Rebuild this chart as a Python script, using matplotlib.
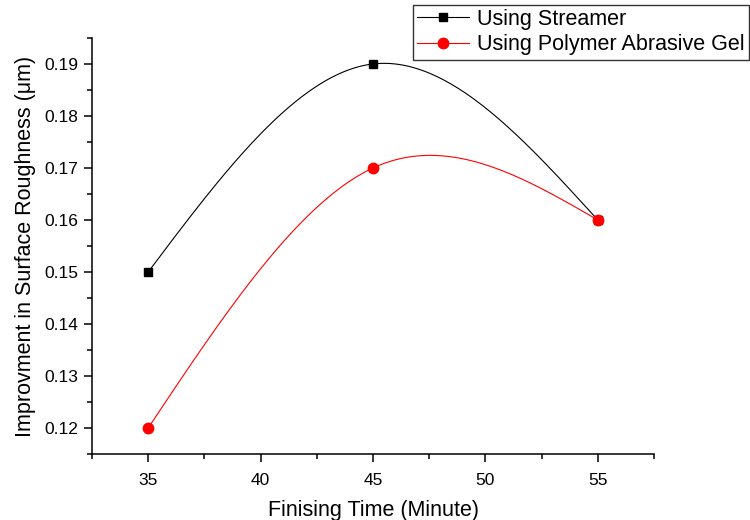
import numpy as np
import matplotlib.pyplot as plt
from matplotlib.ticker import MultipleLocator

plt.rcParams['font.family'] = ['Liberation Sans', 'DejaVu Sans']

# data
time_min = [35, 45, 55]
streamer = [0.15, 0.19, 0.16]
abrasive_gel = [0.12, 0.17, 0.16]


def natural_spline(x, y, n=200):
    # natural cubic spline through the points (like Origin's spline connector)
    x = np.asarray(x, float)
    y = np.asarray(y, float)
    k = len(x)
    h = np.diff(x)
    A = np.zeros((k, k))
    r = np.zeros(k)
    A[0, 0] = A[-1, -1] = 1
    for i in range(1, k - 1):
        A[i, i - 1] = h[i - 1]
        A[i, i] = 2 * (h[i - 1] + h[i])
        A[i, i + 1] = h[i]
        r[i] = 6 * ((y[i + 1] - y[i]) / h[i] - (y[i] - y[i - 1]) / h[i - 1])
    M = np.linalg.solve(A, r)
    xs = np.linspace(x[0], x[-1], n)
    ys = np.empty_like(xs)
    for j, xv in enumerate(xs):
        i = min(np.searchsorted(x, xv, side='right') - 1, k - 2)
        a = x[i + 1] - xv
        b = xv - x[i]
        ys[j] = (M[i] * a ** 3 + M[i + 1] * b ** 3) / (6 * h[i]) \
            + (y[i] / h[i] - M[i] * h[i] / 6) * a \
            + (y[i + 1] / h[i] - M[i + 1] * h[i] / 6) * b
    return xs, ys


fig = plt.figure(figsize=(7.5, 5.2), dpi=100)
ax = fig.add_axes([0.1227, 0.127, 0.7493, 0.8])

xs, ys = natural_spline(time_min, streamer)
ax.plot(xs, ys, color='black', lw=0.8)
ax.plot(time_min, streamer, 's', color='black', ms=6, ls='none')
xs, ys = natural_spline(time_min, abrasive_gel)
ax.plot(xs, ys, color='red', lw=0.8)
ax.plot(time_min, abrasive_gel, 'o', color='red', ms=7.5, ls='none')

# legend handles
h1, = ax.plot([], [], '-s', color='black', lw=0.8, ms=6, label='Using Streamer')
h2, = ax.plot([], [], '-o', color='red', lw=0.8, ms=7.5, label='Using Polymer Abrasive Gel')
leg = fig.legend(handles=[h1, h2], loc='upper right', bbox_to_anchor=(0.998, 0.991),
                 fontsize=15.5, frameon=True, fancybox=False, edgecolor='black',
                 borderpad=0.2, handlelength=2.4, handletextpad=0.35,
                 labelspacing=0.2, borderaxespad=0)
leg.get_frame().set_linewidth(1.0)

ax.set_xlim(32.5, 57.5)
ax.set_ylim(0.115, 0.195)
ax.xaxis.set_major_locator(MultipleLocator(5))
ax.xaxis.set_minor_locator(MultipleLocator(2.5))
ax.yaxis.set_major_locator(MultipleLocator(0.01))
ax.yaxis.set_minor_locator(MultipleLocator(0.005))
ax.yaxis.set_major_formatter(plt.FormatStrFormatter('%.2f'))

ax.spines['top'].set_visible(False)
ax.spines['right'].set_visible(False)
for s in ('left', 'bottom'):
    ax.spines[s].set_linewidth(1.1)
ax.tick_params(which='major', direction='out', length=6, width=1.1, labelsize=12.5)
ax.tick_params(which='minor', direction='out', length=3.5, width=1.1)
ax.tick_params(axis='x', which='major', pad=8)
ax.tick_params(axis='y', which='major', pad=4)

ax.set_xlabel('Finising Time (Minute)', fontsize=15.5, labelpad=8)
ax.set_ylabel('Improvment in Surface Roughness (\u03bcm)', fontsize=15.5, labelpad=6)

fig.savefig('out.png', dpi=100)
